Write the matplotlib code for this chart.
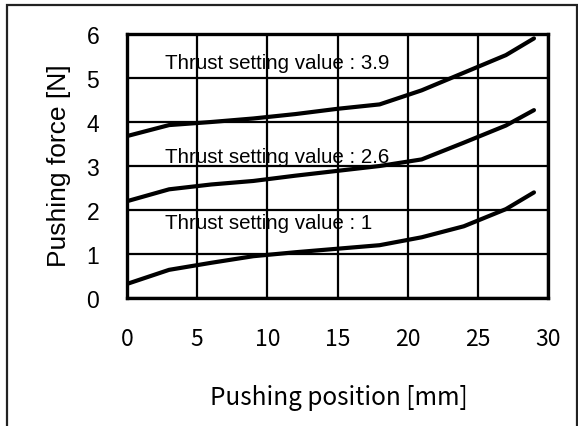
import matplotlib
matplotlib.use("Agg")
import matplotlib.pyplot as plt
from matplotlib.patches import Rectangle

# Data
position_mm = [0, 3, 6, 9, 12, 15, 18, 21, 24, 27, 29]
force_39 = [3.68, 3.93, 4.00, 4.08, 4.18, 4.30, 4.40, 4.72, 5.12, 5.52, 5.90]
force_26 = [2.20, 2.47, 2.58, 2.66, 2.78, 2.89, 3.00, 3.15, 3.53, 3.92, 4.27]
force_1 = [0.32, 0.64, 0.80, 0.95, 1.04, 1.12, 1.20, 1.38, 1.63, 2.02, 2.40]
series_labels = ["Thrust setting value : 3.9", "Thrust setting value : 2.6", "Thrust setting value : 1"]
label_y = [5.23, 3.09, 1.58]
label_x = 2.7
x_ticks = [0, 5, 10, 15, 20, 25, 30]
y_ticks = [0, 1, 2, 3, 4, 5, 6]

W, H = 578, 427
fig = plt.figure(figsize=(W / 100, H / 100), dpi=100)
ax = fig.add_axes([127 / W, 1 - 299 / H, 421 / W, 264 / H])

for ys in (force_39, force_26, force_1):
    ax.plot(position_mm, ys, color="black", lw=3.0, solid_capstyle="round", zorder=3)

for lab, ly in zip(series_labels, label_y):
    ax.text(label_x, ly, lab, fontsize=14.8, family="Liberation Sans",
            va="baseline", ha="left", zorder=4)

ax.set_xlim(0, 30)
ax.set_ylim(0, 6)
ax.set_xticks(x_ticks)
ax.set_yticks(y_ticks)
ax.grid(True, color="black", lw=1.6)
ax.set_axisbelow(True)
for s in ax.spines.values():
    s.set_linewidth(2.4)
ax.tick_params(length=0)
ax.tick_params(axis="x", pad=21)
ax.tick_params(axis="y", pad=20)
for t in ax.get_xticklabels():
    t.set_fontfamily("Noto Sans CJK JP")
    t.set_fontsize(16.5)
for t in ax.get_yticklabels():
    t.set_fontfamily("Liberation Sans")
    t.set_fontsize(16.5)

fig.text(339 / W, 1 - 405 / H, "Pushing position [mm]", family="Noto Sans CJK JP",
         fontsize=17.5, ha="center", va="baseline")
fig.text(66 / W, 1 - 166 / H, "Pushing force [N]", family="Liberation Sans",
         fontsize=19, rotation=90, rotation_mode="anchor", ha="center", va="baseline")

fig.patches.append(Rectangle((7 / W, -0.01), (577 - 7) / W, 1 - 6 / H + 0.01,
                             transform=fig.transFigure, fill=False,
                             edgecolor="#222222", lw=1.6))

fig.savefig("out.png", dpi=100)
